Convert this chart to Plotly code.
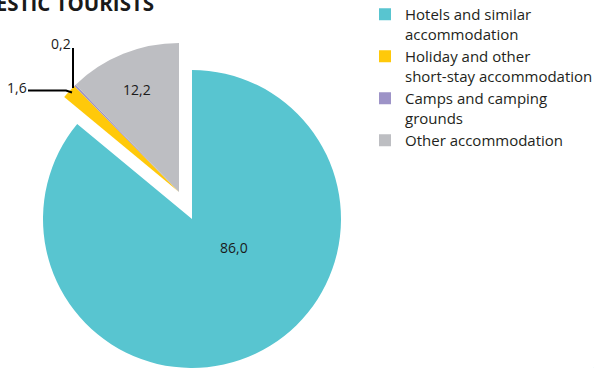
import plotly.graph_objects as go

# accommodation shares, domestic tourists (%)
labels = ["Hotels and similar<br>accommodation",
          "Holiday and other<br>short-stay accommodation",
          "Camps and camping<br>grounds",
          "Other accommodation"]
values = [86.0, 1.6, 0.2, 12.2]
colors = ["#58C5D0", "#FFC90A", "#9D93C7", "#BDBEC2"]

W, H = 594, 368
CLEAR = "rgba(0,0,0,0)"


def dom(cx, cy, r):
    # pie domain from a centre and radius in pixels
    return dict(x=[(cx - r) / W, (cx + r) / W], y=[(H - cy - r) / H, (H - cy + r) / H])


def fmt(v):
    return f"{v:.1f}".replace(".", ",")


fig = go.Figure()
# main slice, left in place
fig.add_trace(go.Pie(labels=labels, values=values, sort=False, direction="clockwise",
                     marker=dict(colors=[colors[0], CLEAR, CLEAR, CLEAR], line=dict(width=0)),
                     textinfo="none", hoverinfo="label+value", showlegend=False,
                     domain=dom(192, 219, 149)))
# the small slices, moved out together
fig.add_trace(go.Pie(labels=labels, values=values, sort=False, direction="clockwise",
                     marker=dict(colors=[CLEAR] + colors[1:], line=dict(width=0)),
                     textinfo="none", hoverinfo="label+value", showlegend=False,
                     domain=dom(179, 192, 149)))
# legend only
fig.add_trace(go.Pie(labels=labels, values=values, sort=False,
                     marker=dict(colors=colors, line=dict(width=0)),
                     textinfo="none", hoverinfo="skip", showlegend=True,
                     domain=dict(x=[0.999, 1], y=[0, 0.001])))

lab = dict(font=dict(family="Open Sans", size=14, color="#1a1a1a"), showarrow=False,
           xref="paper", yref="paper", xanchor="center", yanchor="middle")
pos = [(234, 247), (17, 88), (61, 43), (137, 90)]
annotations = [dict(text=fmt(v), x=px / W, y=1 - py / H, **lab) for v, (px, py) in zip(values, pos)]
annotations.append(dict(text="<b>DOMESTIC TOURISTS</b>", x=156 / W, y=1 - 3 / H, xanchor="right",
                        yanchor="middle", showarrow=False, xref="paper", yref="paper",
                        font=dict(family="Open Sans", size=20.5, color="#1a1a1a")))

line = dict(color="#000000", width=2)
shapes = [
    dict(type="path", xref="paper", yref="paper", line=line,
         path=f"M {28/W},{1-90.5/H} L {66/W},{1-90.5/H} L {72/W},{1-92.5/H}"),
    dict(type="line", xref="paper", yref="paper", line=line,
         x0=73 / W, x1=73 / W, y0=1 - 48 / H, y1=1 - 88 / H),
]

fig.update_layout(
    width=W, height=H, margin=dict(l=0, r=0, t=0, b=0, autoexpand=False),
    paper_bgcolor="white", plot_bgcolor="white",
    annotations=annotations, shapes=shapes,
    legend=dict(x=365 / W, y=1 + 2 / H, xanchor="left", yanchor="top", valign="top",
                font=dict(family="Open Sans", size=15, color="#231f20"),
                bgcolor="rgba(0,0,0,0)"),
)

fig.write_html("out.html", config={"displayModeBar": False},
               post_script="document.body.style.margin='0';")
